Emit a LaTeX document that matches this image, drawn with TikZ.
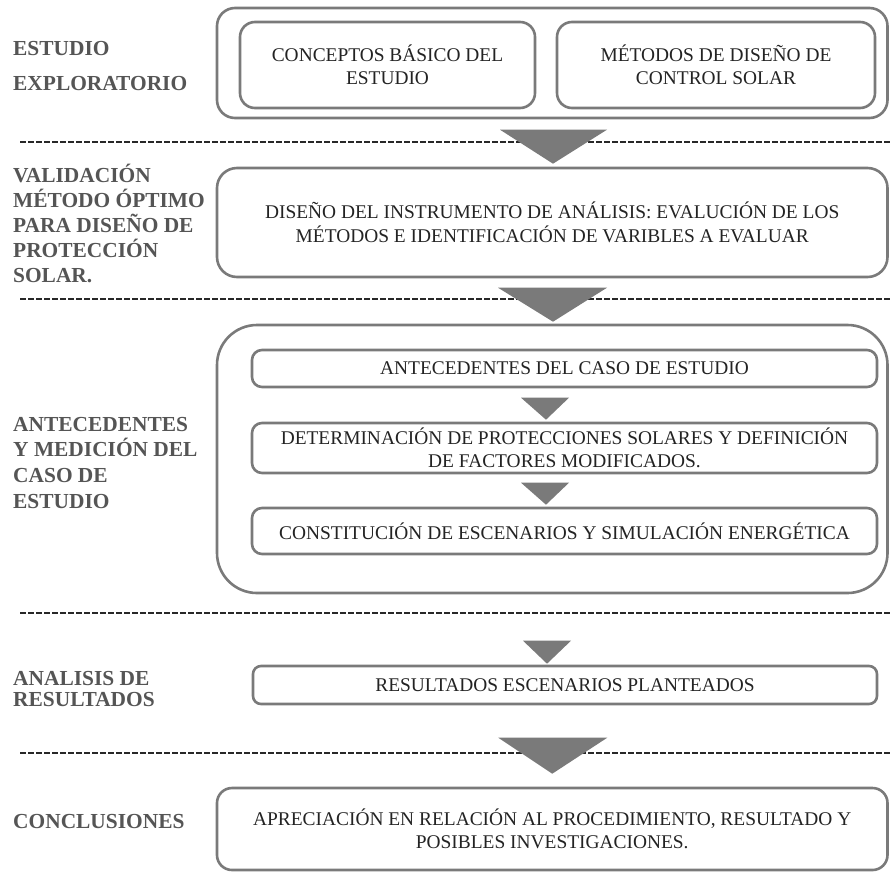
\documentclass[tikz,border=0pt]{standalone}
\usepackage{fontspec}
\setmainfont{Liberation Serif}
\usetikzlibrary{calc}
\definecolor{boxline}{RGB}{122,122,122}
\definecolor{trifill}{RGB}{122,122,122}
\definecolor{labelc}{RGB}{85,85,85}
\definecolor{textc}{RGB}{35,35,35}
\definecolor{dashc}{RGB}{40,40,40}
\begin{document}
\begin{tikzpicture}[x=1pt,y=-1pt,
  frame/.style={draw=boxline, line width=2.6pt, rounded corners=#1, inner sep=0pt,
    text=textc, align=center, font=\fontsize{19.4}{23.5}\selectfont},
  lab/.style={anchor=base west, inner sep=0pt, text=labelc, align=left,
    font=\bfseries\fontsize{21.4}{#1}\selectfont},
  sepline/.style={draw=dashc, line width=1.8pt, dash pattern=on 5.5pt off 2.5pt},
  tri/.style={fill=trifill}]

\useasboundingbox (0,0) rectangle (890,873);
\fill[white] (0,0) rectangle (890,873);

% separators
\draw[sepline] (20,142) -- (890,142);
\draw[sepline] (20,299) -- (890,299);
\draw[sepline] (20,613) -- (890,613);
\draw[sepline] (20,753) -- (890,753);

% section 1
\node[frame=18pt, minimum width=670.5pt, minimum height=110pt] (g1) at (552.25,63) {};
\node[frame=15pt, minimum width=295pt, minimum height=86pt] (c1) at (387.5,65) {CONCEPTOS BÁSICO DEL\\ESTUDIO};
\node[frame=15pt, minimum width=318pt, minimum height=86pt] (c2) at (716,65) {MÉTODOS DE DISEÑO DE\\CONTROL SOLAR};

% section 2
\node[frame=20pt, minimum width=670.5pt, minimum height=109pt] (d1) at (552.25,222.5) {DISEÑO DEL INSTRUMENTO DE ANÁLISIS: EVALUCIÓN DE LOS\\MÉTODOS E IDENTIFICACIÓN DE VARIBLES A EVALUAR};

% section 3
\node[frame=40pt, minimum width=670.5pt, minimum height=268pt] (g3) at (552.25,459) {};
\node[frame=10pt, minimum width=625pt, minimum height=37pt] (a1) at (564.5,368.5) {ANTECEDENTES DEL CASO DE ESTUDIO};
\node[frame=10pt, minimum width=625pt, minimum height=50pt] (a2) at (564.5,448) {DETERMINACIÓN DE PROTECCIONES SOLARES Y DEFINICIÓN\\DE FACTORES MODIFICADOS.};
\node[frame=10pt, minimum width=625pt, minimum height=46pt] (a3) at (564.5,531) {CONSTITUCIÓN DE ESCENARIOS Y SIMULACIÓN ENERGÉTICA};

% section 4
\node[frame=8pt, minimum width=624pt, minimum height=38pt] (r1) at (565,685) {RESULTADOS ESCENARIOS PLANTEADOS};

% section 5
\node[frame=15pt, minimum width=670.5pt, minimum height=82pt] (k1) at (552.25,829) {APRECIACIÓN EN RELACIÓN AL PROCEDIMIENTO, RESULTADO Y\\POSIBLES INVESTIGACIONES.};

% flow triangles
\fill[tri] ($(d1.north)+(0.75,-3)$) -- ++(-53,-34) -- ++(107,0) -- cycle;
\fill[tri] ($(g3.north)+(0.75,-2)$) -- ++(-55,-34) -- ++(109,0) -- cycle;
\fill[tri] ($(a2.north)+(-18.5,-2)$) -- ++(-25,-22) -- ++(48,0) -- cycle;
\fill[tri] ($(a3.north)+(-18.5,-2)$) -- ++(-25,-22) -- ++(48,0) -- cycle;
\fill[tri] ($(r1.north)+(-18,-1)$) -- ++(-24,-23) -- ++(48,0) -- cycle;
\fill[tri] ($(k1.north)+(0,-13)$) -- ++(-54,-36) -- ++(109,0) -- cycle;

% left labels (anchored at the baseline of their last line)
\node[lab=35pt] (l1) at (13,90) {ESTUDIO\\EXPLORATORIO};
\node[lab=25.2pt] (l2) at (13,282.8) {VALIDACIÓN\\MÉTODO ÓPTIMO\\PARA DISEÑO DE\\PROTECCIÓN\\SOLAR.};
\node[lab=25.7pt] (l3) at (13,508.1) {ANTECEDENTES\\Y MEDICIÓN DEL\\CASO DE\\ESTUDIO};
\node[lab=21pt] (l4) at (13,706) {ANALISIS DE\\RESULTADOS};
\node[lab=21pt] (l5) at (13,828) {CONCLUSIONES};
\end{tikzpicture}
\end{document}
